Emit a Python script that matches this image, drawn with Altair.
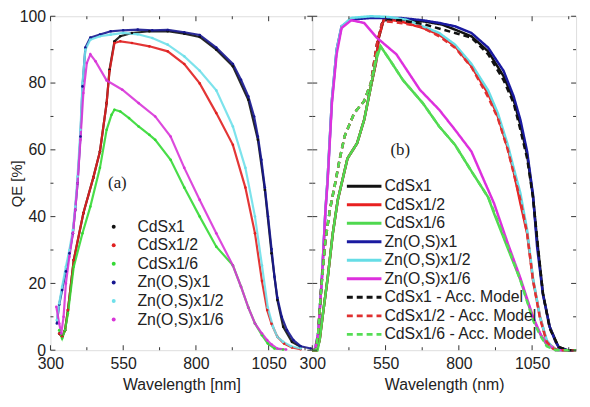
import altair as alt
import pandas as pd

FONT = "Liberation Sans"
TXT = "#222222"

# ---------------- Panel (a): measured QE ----------------
NAMES_A = ["CdSx1", "CdSx1/2", "CdSx1/6", "Zn(O,S)x1", "Zn(O,S)x1/2", "Zn(O,S)x1/6"]
COLORS_A = ["#111111", "#e02020", "#35d935", "#16168f", "#6fe0ea", "#d835d8"]

A_CDS1_WL = [330, 340, 350, 360, 380, 413, 447, 470, 493, 503, 520, 540, 580, 640, 703, 760, 813, 870, 927, 980, 1013, 1037, 1060, 1080, 1100, 1130, 1160]
A_CDS1_QE = [5, 4, 6, 12, 27, 41, 51.6, 59.5, 74, 84, 92.5, 94, 95, 95.5, 95.5, 94.8, 93.8, 90, 85, 75, 63, 48, 29, 15, 7, 2.5, 1]

A_CDS2_WL = [330, 340, 350, 360, 380, 413, 447, 470, 493, 503, 520, 540, 580, 640, 703, 760, 813, 870, 927, 970, 1003, 1027, 1045, 1060, 1080, 1103, 1130, 1160]
A_CDS2_QE = [5, 4, 6, 12, 27, 41, 51.6, 59.5, 74, 83.6, 92, 92.5, 92, 91, 89.5, 85.7, 79.9, 71, 61.5, 48.7, 35, 20.7, 12, 7.9, 4, 2, 0.8, 0.3]

A_CDS6_WL = [330, 340, 350, 360, 380, 410, 437, 470, 493, 510, 520, 540, 570, 603, 640, 660, 713, 760, 813, 870, 927, 955, 980, 1003, 1027, 1047, 1070, 1100]
A_CDS6_QE = [6, 3.5, 6, 11, 25, 35, 43, 54.6, 66, 70.5, 72, 71.5, 69.5, 67, 64.5, 63, 57, 48.7, 40, 31, 25.4, 19, 12.8, 8, 4.5, 2, 0.5, 0.2]

A_ZN1_WL = [322, 330, 340, 353, 365, 377, 385, 393, 403, 410, 420, 437, 470, 507, 550, 600, 650, 703, 760, 813, 870, 927, 955, 980, 1000, 1013, 1025, 1037, 1048, 1060, 1070, 1080, 1095, 1113, 1135, 1160, 1195]
A_ZN1_QE = [8, 13.7, 18, 23.6, 29, 35, 42, 50, 64, 79, 90.6, 93.6, 94.5, 95.5, 95.8, 96, 95.8, 95.9, 95.2, 94.4, 90.6, 85.7, 81, 76, 70, 64, 57, 48.7, 40, 30.3, 22, 15.7, 10, 6, 3, 1.2, 0.5]

A_ZN2_WL = [322, 330, 340, 353, 365, 377, 385, 393, 403, 410, 420, 437, 470, 507, 550, 600, 650, 703, 760, 813, 870, 927, 970, 1003, 1027, 1047, 1065, 1080, 1100, 1127, 1160]
A_ZN2_QE = [9, 14, 19, 25, 30, 36, 43, 52, 66, 80, 90, 93, 94, 94.5, 95, 94.6, 93.5, 91.5, 88, 83.7, 77.8, 67, 54.6, 40, 25.4, 12.8, 7, 4, 2.5, 1.2, 0.5]

A_ZN6_WL = [320, 330, 337, 345, 353, 365, 377, 385, 393, 403, 413, 425, 437, 455, 493, 547, 603, 660, 713, 760, 813, 870, 927, 955, 980, 1003, 1027, 1045, 1060, 1080, 1110]
A_ZN6_QE = [13, 8, 5, 10, 20, 28, 35, 42, 50, 63, 77, 86, 88.6, 86.5, 80.8, 78, 74, 70, 64, 54.6, 45, 35, 25.4, 19, 12.8, 8, 5, 3, 1.7, 0.5, 0.2]

# ---------------- Panel (b): measured + accumulation model ----------------
NAMES_B = ["CdSx1", "CdSx1/2", "CdSx1/6", "Zn(O,S)x1", "Zn(O,S)x1/2", "Zn(O,S)x1/6",
           "CdSx1 - Acc. Model", "CdSx1/2 - Acc. Model", "CdSx1/6 - Acc. Model"]
COLORS_B = ["#111111", "#e82020", "#4fd84f", "#1a1aa0", "#66dde6", "#dd30dd",
            "#111111", "#e03030", "#55dd55"]
DASHES_B = [[1, 0], [1, 0], [1, 0], [1, 0], [1, 0], [1, 0], [6, 4], [6, 4], [6, 4]]

B_CDS1_WL = [300, 315, 325, 335, 353, 370, 387, 420, 453, 477, 500, 517, 527, 543, 560, 600, 677, 743, 787, 843, 900, 953, 987, 1010, 1033, 1053, 1067, 1087, 1110, 1140, 1170, 1200]
B_CDS1_QE = [0, 0, 3, 10, 22, 35, 45, 57.4, 62, 69, 79, 86, 93.6, 98.8, 99, 99, 98.5, 97.5, 96, 94, 89.5, 82, 75, 67.5, 58.5, 46, 33, 17, 7, 1, 0, 0]

B_CDS2_WL = [300, 315, 325, 335, 353, 370, 387, 420, 453, 477, 500, 517, 527, 543, 560, 600, 677, 733, 787, 843, 900, 933, 967, 987, 1010, 1033, 1053, 1077, 1100, 1130, 1160, 1200]
B_CDS2_QE = [0, 0, 3, 10, 22, 35, 45, 57.4, 62, 69, 79, 86, 93.6, 98.8, 99, 98.5, 96.5, 94.5, 91, 85, 76.8, 70, 60.5, 53.5, 44, 35, 21, 10, 2.5, 0.3, 0, 0]

B_CDS6_WL = [300, 318, 325, 335, 353, 370, 387, 420, 453, 477, 500, 517, 533, 567, 610, 677, 733, 787, 843, 900, 920, 967, 1010, 1053, 1077, 1100, 1130, 1160, 1200]
B_CDS6_QE = [0, 0, 3, 10, 22, 35, 45, 57.4, 62, 69, 79, 86.6, 91, 86.6, 80.8, 74, 67, 61.5, 53.6, 45.8, 41, 30.5, 21, 9.5, 5, 1.5, 0.2, 0, 0]

B_ZN1_WL = [300, 310, 320, 333, 345, 352, 367, 383, 400, 433, 500, 600, 677, 733, 787, 843, 900, 953, 987, 1010, 1033, 1053, 1067, 1087, 1110, 1130, 1143, 1170, 1200]
B_ZN1_QE = [0, 0.5, 5, 22, 42, 51, 75, 90, 97, 99, 99.5, 99.5, 98.8, 98, 97, 95, 90.6, 83.6, 76, 69, 59.5, 46.6, 31, 16.6, 7, 2.5, 0.6, 0, 0]

B_ZN2_WL = [300, 310, 320, 333, 345, 352, 367, 383, 400, 433, 500, 560, 620, 677, 733, 787, 843, 900, 933, 967, 987, 1010, 1033, 1053, 1077, 1100, 1120, 1140, 1200]
B_ZN2_QE = [0, 0.5, 5, 22, 42, 51, 75, 90, 97, 99.5, 100, 99.8, 99, 97, 95, 91.5, 85.7, 77.8, 71, 61.5, 54.6, 47, 36, 21.6, 10, 3, 0.8, 0, 0]

B_ZN6_WL = [300, 310, 320, 333, 345, 352, 367, 383, 400, 433, 477, 520, 587, 667, 733, 787, 843, 885, 920, 967, 1010, 1053, 1080, 1100, 1130, 1200]
B_ZN6_QE = [0, 0.5, 5, 21.6, 42, 50, 74, 88.6, 96.5, 98.8, 98, 93.6, 88.6, 78, 72, 66, 59.5, 51, 44, 32, 21.6, 10, 4.5, 2, 0, 0]

B_M1_WL = [300, 312, 320, 330, 345, 360, 377, 393, 410, 443, 477, 500, 520, 537, 550, 600, 677, 787, 843, 900, 953, 987, 1010, 1033, 1053, 1070, 1087, 1110, 1140, 1170, 1200]
B_M1_QE = [0, 0, 5, 18, 33, 42, 49.5, 57, 64, 71, 74.6, 80, 91.5, 97.7, 98.8, 98.8, 97.7, 95, 93.6, 88.6, 80.8, 74, 66, 57.4, 45.8, 31, 17, 6.5, 1, 0, 0]

B_M2_WL = [300, 312, 320, 330, 345, 360, 377, 393, 410, 443, 477, 500, 520, 537, 550, 600, 667, 733, 787, 843, 900, 933, 967, 987, 1010, 1033, 1053, 1077, 1100, 1120, 1140, 1200]
B_M2_QE = [0, 0, 5, 18, 33, 42, 49.5, 57, 64, 71, 74.6, 80, 91.5, 97.7, 98.5, 98, 97, 94, 90.6, 84.8, 75.8, 69.5, 60, 53, 45, 35, 21, 9.5, 2.5, 0.5, 0, 0]

B_M6_WL = [300, 312, 320, 330, 345, 360, 377, 393, 410, 443, 477, 500, 520, 533, 567, 610, 677, 733, 787, 843, 900, 920, 967, 1010, 1053, 1077, 1100, 1130, 1160, 1200]
B_M6_QE = [0, 0, 5, 18, 33, 42, 49.5, 57, 64, 71, 74.6, 80, 88.6, 91, 86.6, 80.8, 74, 67, 61.5, 53.6, 45.8, 41.5, 31, 21, 9, 4.5, 1.2, 0, 0, 0]

# ---------------- axes ----------------
X_DOMAIN = [300, 1200]
Y_DOMAIN = [0, 100]
X_MAJOR = [300, 550, 800, 1050]
X_MINOR = [425, 675, 925, 1175]
Y_MAJOR = [0, 20, 40, 60, 80, 100]
Y_MINOR = [10, 30, 50, 70, 90]
PANEL_LABELS = ["(a)", "(b)"]
PANEL_LABEL_POS = [(530, 50), (600, 60)]

WA, WB, H = 265, 267, 338


def build(names, wls, qes, field):
    rows = []
    for i, (n, w, q) in enumerate(zip(names, wls, qes)):
        for a, b in zip(w, q):
            rows.append({field: n, "wl": a, "qe": b, "k": i})
    return pd.DataFrame(rows)


df_a = build(NAMES_A,
             [A_CDS1_WL, A_CDS2_WL, A_CDS6_WL, A_ZN1_WL, A_ZN2_WL, A_ZN6_WL],
             [A_CDS1_QE, A_CDS2_QE, A_CDS6_QE, A_ZN1_QE, A_ZN2_QE, A_ZN6_QE], "sa")
df_b = build(NAMES_B,
             [B_CDS1_WL, B_CDS2_WL, B_CDS6_WL, B_ZN1_WL, B_ZN2_WL, B_ZN6_WL, B_M1_WL, B_M2_WL, B_M6_WL],
             [B_CDS1_QE, B_CDS2_QE, B_CDS6_QE, B_ZN1_QE, B_ZN2_QE, B_ZN6_QE, B_M1_QE, B_M2_QE, B_M6_QE], "sb")

xs = alt.Scale(domain=X_DOMAIN, nice=False, zero=False)
ys = alt.Scale(domain=Y_DOMAIN, nice=False, zero=False)


def tick_layers(W):
    xmaj = pd.DataFrame({"v": X_MAJOR})
    xmin = pd.DataFrame({"v": X_MINOR})
    ymaj = pd.DataFrame({"v": Y_MAJOR})
    ymin = pd.DataFrame({"v": Y_MINOR})
    layers = []
    for d, ln in [(xmaj, 5), (xmin, 3)]:
        c = alt.Chart(d).mark_rule(color="#333", strokeWidth=1)
        layers.append(c.encode(x=alt.X("v:Q", scale=xs), y=alt.value(H), y2=alt.value(H - ln)))
        layers.append(c.encode(x=alt.X("v:Q", scale=xs), y=alt.value(0), y2=alt.value(ln)))
    for d, ln in [(ymaj, 5), (ymin, 3)]:
        c = alt.Chart(d).mark_rule(color="#333", strokeWidth=1)
        layers.append(c.encode(y=alt.Y("v:Q", scale=ys), x=alt.value(0), x2=alt.value(ln)))
        layers.append(c.encode(y=alt.Y("v:Q", scale=ys), x=alt.value(W), x2=alt.value(W - ln)))
    return layers


def xaxis(title):
    return alt.Axis(values=X_MAJOR, title=title, format="d", ticks=False, domain=False, grid=False,
                    labelFlush=False, labelFontSize=16, labelFont=FONT, labelColor=TXT,
                    labelPadding=6, titleFontSize=16, titleFont=FONT, titleColor=TXT,
                    titleFontWeight="normal", titlePadding=5)


def panel_label(k):
    d = pd.DataFrame({"t": [PANEL_LABELS[k]], "x": [PANEL_LABEL_POS[k][0]], "y": [PANEL_LABEL_POS[k][1]]})
    return alt.Chart(d).mark_text(font="Liberation Serif", fontSize=17, color=TXT).encode(
        x=alt.X("x:Q", scale=xs), y=alt.Y("y:Q", scale=ys), text="t:N")


# ---- panel a ----
color_a = alt.Scale(domain=NAMES_A, range=COLORS_A)
lines_a = alt.Chart(df_a).mark_line(strokeWidth=2.2, opacity=0.9).encode(
    x=alt.X("wl:Q", scale=xs, axis=xaxis("Wavelength [nm]")),
    y=alt.Y("qe:Q", scale=ys, axis=alt.Axis(values=Y_MAJOR, title="QE [%]", ticks=False, domain=False,
                                             grid=False, labelFlush=False, labelFontSize=16, labelFont=FONT,
                                             labelColor=TXT, labelPadding=5, titleFontSize=15, titleFont=FONT,
                                             titleColor=TXT, titleFontWeight="normal", titlePadding=-5)),
    color=alt.Color("sa:N", scale=color_a, legend=None),
    detail="k:O",
)
pts_a = alt.Chart(df_a).mark_circle(size=7, opacity=1).encode(
    x=alt.X("wl:Q", scale=xs), y=alt.Y("qe:Q", scale=ys),
    color=alt.Color("sa:N", scale=color_a, legend=None),
)
# hand-drawn legend for panel (a)
lega_df = pd.DataFrame({"sa": NAMES_A, "i": list(range(len(NAMES_A)))})
lega_base = alt.Chart(lega_df).transform_calculate(
    ly=f"{H} - 125 + datum.i * 18.8", lx="64", lt="88")
lega_pts = lega_base.mark_circle(size=16, opacity=1).encode(
    x=alt.X("lx:Q", scale=None), y=alt.Y("ly:Q", scale=None),
    color=alt.Color("sa:N", scale=color_a, legend=None))
lega_txt = lega_base.mark_text(align="left", baseline="middle", font=FONT, fontSize=16, color=TXT).encode(
    x=alt.X("lt:Q", scale=None), y=alt.Y("ly:Q", scale=None), text="sa:N")

panel_a = alt.layer(lines_a, pts_a, lega_pts, lega_txt, panel_label(0), *tick_layers(WA)).properties(width=WA, height=H)

# ---- panel b ----
color_b = alt.Scale(domain=NAMES_B, range=COLORS_B)
dash_b = alt.Scale(domain=NAMES_B, range=DASHES_B)
lines_b = alt.Chart(df_b).mark_line(strokeWidth=2.5).encode(
    x=alt.X("wl:Q", scale=xs, axis=xaxis("Wavelength (nm)")),
    y=alt.Y("qe:Q", scale=ys, axis=None),
    color=alt.Color("sb:N", scale=color_b, legend=None),
    strokeDash=alt.StrokeDash("sb:N", scale=dash_b, legend=None),
    detail="k:O",
)
legb_df = pd.DataFrame({"sb": NAMES_B, "i": list(range(len(NAMES_B)))})
legb_base = alt.Chart(legb_df).transform_calculate(
    ly=f"{H} - 166 + datum.i * 18.75", lx1="35", lx2="70", lt="73")
legb_lines = legb_base.mark_rule(strokeWidth=3).encode(
    x=alt.X("lx1:Q", scale=None), x2="lx2:Q", y=alt.Y("ly:Q", scale=None),
    color=alt.Color("sb:N", scale=color_b, legend=None),
    strokeDash=alt.StrokeDash("sb:N", scale=dash_b, legend=None),
)
legb_txt = legb_base.mark_text(align="left", baseline="middle", font=FONT, fontSize=16, color=TXT).encode(
    x=alt.X("lt:Q", scale=None), y=alt.Y("ly:Q", scale=None), text="sb:N")

panel_b = alt.layer(lines_b, legb_lines, legb_txt, panel_label(1), *tick_layers(WB)).properties(width=WB, height=H)

chart = alt.hconcat(panel_a, panel_b, spacing=0, bounds="flush").resolve_scale(
    color="independent", strokeDash="independent", x="independent", y="independent"
).properties(
    padding={"left": 0, "top": -3, "right": 0, "bottom": 0}
).configure_view(stroke="#444", strokeWidth=1.2).configure(background="white")

chart.save("out.html", embed_options={"renderer": "svg", "actions": False})
